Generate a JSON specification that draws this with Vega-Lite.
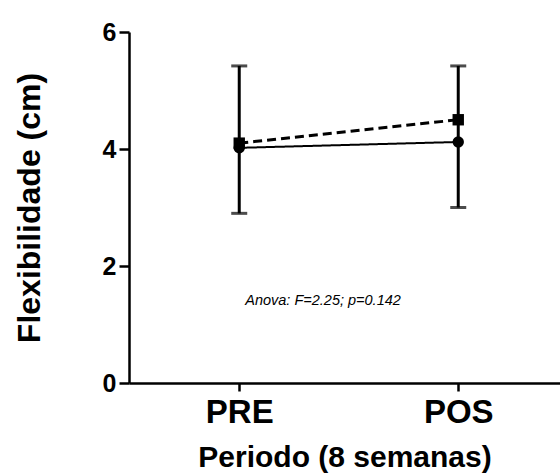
{
  "$schema": "https://vega.github.io/schema/vega-lite/v6.json",
  "width": 431,
  "height": 351,
  "autosize": {"type": "none"},
  "padding": {"left": 129, "top": 32, "right": 0, "bottom": 90},
  "background": "white",
  "config": {
    "view": {"stroke": null},
    "font": "Liberation Sans"
  },
  "datasets": {
    "means": [
      {"periodo": "PRE", "grupo": "A", "valor": 4.02},
      {"periodo": "POS", "grupo": "A", "valor": 4.12},
      {"periodo": "PRE", "grupo": "B", "valor": 4.1},
      {"periodo": "POS", "grupo": "B", "valor": 4.5}
    ],
    "errors": [
      {"periodo": "PRE", "low": 2.9, "high": 5.42},
      {"periodo": "POS", "low": 3.0, "high": 5.42}
    ],
    "note": [
      {"periodo": "PRE", "y": 1.4, "label": "Anova: F=2.25; p=0.142"}
    ]
  },
  "encoding": {
    "x": {
      "field": "periodo",
      "type": "ordinal",
      "sort": ["PRE", "POS"],
      "scale": {"type": "point", "padding": 0.484, "align": 0.52},
      "axis": {
        "title": "Periodo (8 semanas)",
        "titleFontSize": 30,
        "titleFontWeight": "bold",
        "titleColor": "black",
        "titlePadding": 13,
        "labelFontSize": 33,
        "labelFontWeight": "bold",
        "labelColor": "black",
        "labelPadding": 5,
        "labelAngle": 0,
        "tickSize": 8,
        "tickWidth": 2.5,
        "tickColor": "black",
        "domainColor": "black",
        "domainWidth": 2.5,
        "grid": false
      }
    }
  },
  "layer": [
    {
      "data": {"name": "errors"},
      "mark": {"type": "rule", "color": "black", "strokeWidth": 3},
      "encoding": {
        "y": {
          "field": "low",
          "type": "quantitative",
          "scale": {"domain": [0, 6], "nice": false, "zero": true},
          "axis": {
            "title": "Flexibilidade (cm)",
            "titleFontSize": 32,
            "titleFontWeight": "bold",
            "titleColor": "black",
            "titlePadding": 56,
            "values": [0, 2, 4, 6],
            "format": "d",
            "labelFontSize": 25,
            "labelFontWeight": "bold",
            "labelColor": "black",
            "labelPadding": 3,
            "tickSize": 10,
            "tickWidth": 2.5,
            "tickColor": "black",
            "domainColor": "black",
            "domainWidth": 2.5,
            "grid": false
          }
        },
        "y2": {"field": "high"}
      }
    },
    {
      "data": {"name": "errors"},
      "mark": {"type": "tick", "color": "black", "thickness": 3, "size": 16, "orient": "horizontal"},
      "encoding": {"y": {"field": "low", "type": "quantitative"}}
    },
    {
      "data": {"name": "errors"},
      "mark": {"type": "tick", "color": "black", "thickness": 3, "size": 16, "orient": "horizontal"},
      "encoding": {"y": {"field": "high", "type": "quantitative"}}
    },
    {
      "data": {"name": "means"},
      "mark": {"type": "line", "color": "black"},
      "encoding": {
        "y": {"field": "valor", "type": "quantitative"},
        "detail": {"field": "grupo"},
        "strokeDash": {
          "field": "grupo",
          "type": "nominal",
          "scale": {"domain": ["A", "B"], "range": [[1, 0], [9, 5]]},
          "legend": null
        },
        "strokeWidth": {
          "field": "grupo",
          "type": "nominal",
          "scale": {"domain": ["A", "B"], "range": [2, 3]},
          "legend": null
        }
      }
    },
    {
      "data": {"name": "means"},
      "mark": {"type": "point", "filled": true, "color": "black", "opacity": 1},
      "encoding": {
        "y": {"field": "valor", "type": "quantitative"},
        "shape": {
          "field": "grupo",
          "type": "nominal",
          "scale": {"domain": ["A", "B"], "range": ["circle", "square"]},
          "legend": null
        },
        "size": {"value": 130}
      }
    },
    {
      "data": {"name": "note"},
      "mark": {"type": "text", "align": "left", "baseline": "middle", "dx": 6, "fontSize": 14.5, "fontStyle": "italic", "color": "black"},
      "encoding": {
        "y": {"field": "y", "type": "quantitative"},
        "text": {"field": "label"}
      }
    }
  ]
}
